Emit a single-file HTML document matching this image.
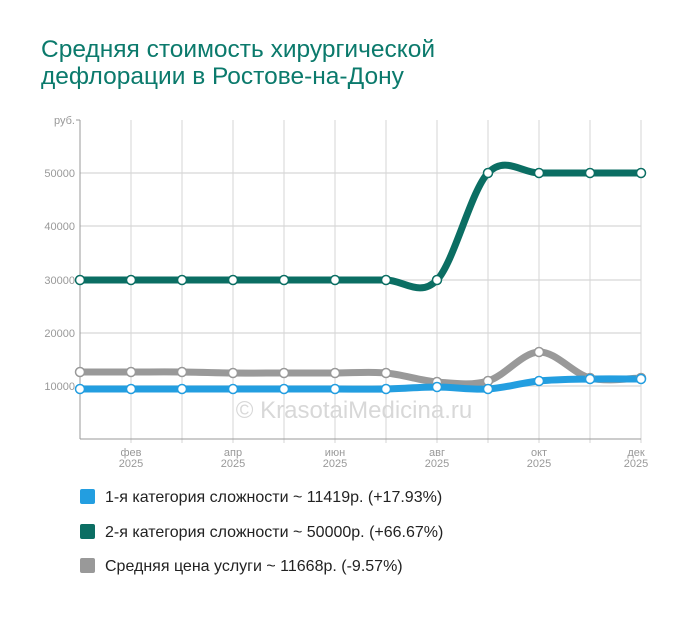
<!DOCTYPE html>
<html><head><meta charset="utf-8"><style>
body{margin:0;background:#fff;width:700px;height:617px;overflow:hidden;font-family:"Liberation Sans","DejaVu Sans",sans-serif}
.t{position:absolute;left:41px;top:36px;font-size:24.5px;line-height:27px;color:#0b7a6c}
.lg{position:absolute;left:80px;font-size:16px;color:#222}
.lg i{display:inline-block;width:15px;height:15px;border-radius:2px;vertical-align:-2px;margin-right:10px}
</style></head><body>
<div class="t">Средняя стоимость хирургической<br>дефлорации в Ростове-на-Дону</div>
<svg id="s" width="700" height="617" style="position:absolute;left:0;top:0">
<g stroke="#ddd" stroke-width="1.5">
<line x1="80" x2="641" y1="173" y2="173"/><line x1="80" x2="641" y1="226" y2="226"/>
<line x1="80" x2="641" y1="280" y2="280"/><line x1="80" x2="641" y1="333" y2="333"/>
<line x1="80" x2="641" y1="386" y2="386"/>
</g>
<g id="vg" stroke="#d6d6d6" stroke-width="1"></g>
<line x1="80" x2="80" y1="120" y2="439" stroke="#999"/>
<line x1="80" x2="641" y1="439" y2="439" stroke="#999"/>
<line x1="76" x2="80" y1="120" y2="120" stroke="#999"/>
<g font-size="11" fill="#999" text-anchor="end">
<text x="75" y="124">руб.</text><text x="75" y="177">50000</text><text x="75" y="230">40000</text>
<text x="75" y="284">30000</text><text x="75" y="337">20000</text><text x="75" y="390">10000</text>
</g>
<g font-size="11" fill="#999" text-anchor="middle">
<text x="131" y="456">фев</text><text x="131" y="467">2025</text>
<text x="233" y="456">апр</text><text x="233" y="467">2025</text>
<text x="335" y="456">июн</text><text x="335" y="467">2025</text>
<text x="437" y="456">авг</text><text x="437" y="467">2025</text>
<text x="539" y="456">окт</text><text x="539" y="467">2025</text>
<text x="636" y="456">дек</text><text x="636" y="467">2025</text>
</g>
<text x="354" y="418" font-size="24" fill="#d8d8d8" text-anchor="middle">© KrasotaiMedicina.ru</text>
<g id="ln" fill="none" stroke-width="7" stroke-linecap="round"></g>
<g id="pt" fill="#fff" stroke-width="1.5"></g>
</svg>
<div class="lg" style="top:489px"><i style="background:#239ee0"></i>1-я категория сложности ~ 11419р. (+17.93%)</div>
<div class="lg" style="top:524px"><i style="background:#0b6e63"></i>2-я категория сложности ~ 50000р. (+66.67%)</div>
<div class="lg" style="top:558px"><i style="background:#999"></i>Средняя цена услуги ~ 11668р. (-9.57%)</div>
<script>
var X=[];for(var i=0;i<12;i++)X.push(80+51*i);
var vg=document.getElementById('vg');
X.forEach(function(x){if(x>80)vg.innerHTML+='<line x1="'+x+'" x2="'+x+'" y1="120" y2="443"/>';});
function path(Y){var d='M'+X[0]+','+Y[0];for(var i=0;i<11;i++){var p0=i?i-1:0,p3=i<10?i+2:11;
var c1x=X[i]+(X[i+1]-X[p0])/6,c1y=Y[i]+(Y[i+1]-Y[p0])/6,c2x=X[i+1]-(X[p3]-X[i])/6,c2y=Y[i+1]-(Y[p3]-Y[i])/6;
d+=' C'+c1x+','+c1y+' '+c2x+','+c2y+' '+X[i+1]+','+Y[i+1];}return d;}
var S=[
[[372,372,372,373,373,373,373,382,381,352,378,378],'#999'],
[[389,389,389,389,389,389,389,387,389,381,379,379],'#239ee0'],
[[280,280,280,280,280,280,280,280,173,173,173,173],'#0b6e63']];
var ln=document.getElementById('ln'),pt=document.getElementById('pt');
S.forEach(function(s){ln.innerHTML+='<path d="'+path(s[0])+'" stroke="'+s[1]+'"/>';
s[0].forEach(function(y,i){pt.innerHTML+='<circle cx="'+X[i]+'" cy="'+y+'" r="4.5" stroke="'+s[1]+'"/>';});});
</script>
</body></html>
